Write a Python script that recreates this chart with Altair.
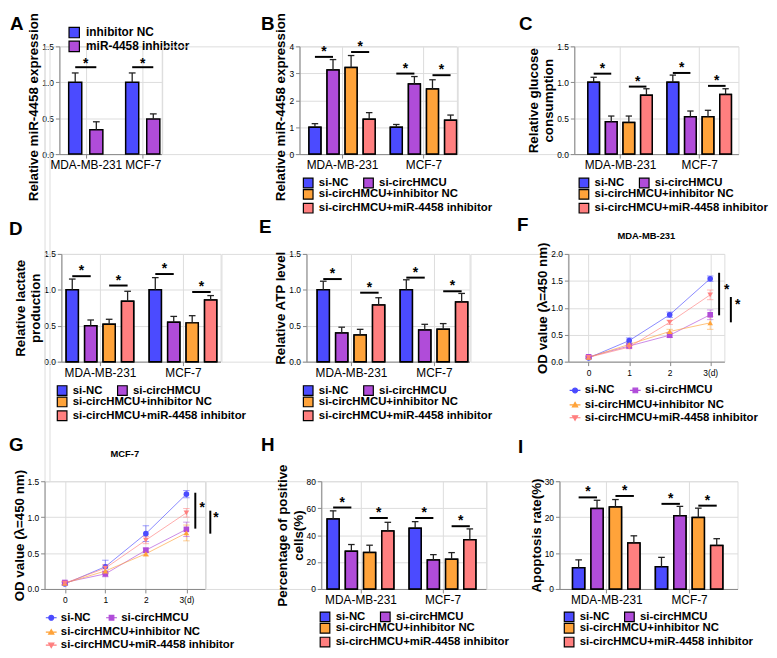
import altair as alt
import pandas as pd

FONT = "Liberation Sans"

groups = ["MDA-MB-231", "MCF-7"]
series4 = ["si-NC", "si-circHMCU", "si-circHMCU+inhibitor NC", "si-circHMCU+miR-4458 inhibitor"]
colors4 = ["#4B4BFF", "#B04CD9", "#FFA33A", "#FF7F7F"]
series2 = ["inhibitor NC", "miR-4458 inhibitor"]
colors2 = ["#4B4BFF", "#B04CD9"]
shapes4 = ["circle", "square", "triangle-up", "triangle-down"]
# legend glyphs for the growth curves: marker with a line through it
LINE = "M-2,0H2"
legend_shapes4 = [
    "M-0.9,0A0.9,0.9,0,1,1,0.9,0A0.9,0.9,0,1,1,-0.9,0Z" + LINE,
    "M-0.85,-0.85H0.85V0.85H-0.85Z" + LINE,
    "M0,-0.95L0.95,0.7H-0.95Z" + LINE,
    "M0,0.95L0.95,-0.7H-0.95Z" + LINE,
]

# Panel A
A_mean = [1.00, 0.34, 1.00, 0.49]
A_err = [0.13, 0.11, 0.13, 0.07]
A_sig = [1.21, 1.21]
# Panel B
B_mean = [1.00, 3.12, 3.22, 1.29, 1.00, 2.60, 2.42, 1.26]
B_err = [0.13, 0.39, 0.44, 0.25, 0.10, 0.28, 0.34, 0.19]
B_sig = [3.61, 3.79, 2.99, 2.93]
# Panel C
C_mean = [1.00, 0.45, 0.44, 0.82, 1.00, 0.52, 0.52, 0.83]
C_err = [0.07, 0.08, 0.09, 0.09, 0.10, 0.08, 0.09, 0.08]
C_sig = [1.12, 0.94, 1.13, 0.95]
# Panel D
D_mean = [1.00, 0.50, 0.52, 0.84, 1.00, 0.55, 0.54, 0.86]
D_err = [0.15, 0.08, 0.07, 0.14, 0.17, 0.08, 0.10, 0.06]
D_sig = [1.19, 1.06, 1.22, 0.97]
# Panel E
E_mean = [1.00, 0.40, 0.37, 0.79, 1.00, 0.44, 0.45, 0.83]
E_err = [0.12, 0.08, 0.08, 0.10, 0.14, 0.08, 0.08, 0.12]
E_sig = [1.15, 0.96, 1.17, 0.98]
# Panel H
H_mean = [52, 28, 27, 43, 45, 21.5, 22, 36.6]
H_err = [6, 5, 5.5, 6.5, 5, 4, 5, 8]
H_sig = [60.5, 52.7, 52.7, 46.6]
# Panel I
I_mean = [5.9, 22.4, 22.8, 12.8, 6.2, 20.4, 19.9, 12.1]
I_err = [2.2, 2.3, 2.1, 2.0, 2.6, 2.6, 2.6, 1.9]
I_sig = [25.5, 25.9, 23.7, 23.2]

# Panels F and G (CCK-8 curves)
days = [0, 1, 2, 3]
F_vals = [[0.07, 0.39, 0.87, 1.54], [0.09, 0.29, 0.49, 0.87],
          [0.08, 0.32, 0.56, 0.72], [0.08, 0.27, 0.73, 1.24]]
F_errs = [[0.02, 0.05, 0.05, 0.05], [0.02, 0.03, 0.04, 0.09],
          [0.02, 0.03, 0.04, 0.12], [0.02, 0.03, 0.04, 0.09]]
F_brackets = [[3.22, 0.86, 1.65], [3.51, 0.73, 1.20]]
F_stars = [[3.41, 1.27], [3.68, 0.99]]
G_vals = [[0.07, 0.31, 0.77, 1.32], [0.09, 0.21, 0.54, 0.83],
          [0.08, 0.25, 0.49, 0.78], [0.08, 0.29, 0.68, 1.06]]
G_errs = [[0.02, 0.09, 0.11, 0.05], [0.02, 0.04, 0.03, 0.10],
          [0.02, 0.04, 0.03, 0.11], [0.02, 0.05, 0.05, 0.06]]
G_brackets = [[3.22, 0.84, 1.34], [3.59, 0.77, 1.09]]
G_stars = [[3.39, 1.09], [3.73, 0.94]]

BOLD = "bold"
PH = 109  # plot height
TFS = 13.5  # axis title font size
RES = dict(color="independent", shape="independent", fill="independent", stroke="independent")


def text_layer(txt, x, y, size, align="left"):
    return alt.Chart(pd.DataFrame({"t": [txt]})).mark_text(
        align=align, baseline="middle", fontSize=size, fontWeight=BOLD, font=FONT, color="black"
    ).encode(text="t:N", x=alt.value(x), y=alt.value(y))


def legend_pair(series, lx, ly, gap2, with_stroke=True):
    common = dict(title=None, orient="none", symbolOpacity=1,
                  labelFont=FONT, labelFontSize=11.5, labelFontWeight=BOLD, labelColor="black",
                  labelLimit=400, labelOffset=5, padding=0, columnPadding=12)
    if with_stroke:
        common.update(symbolType="square", symbolSize=95, symbolStrokeColor="black",
                      symbolStrokeWidth=1.2, rowPadding=-3)
    else:
        common.update(symbolSize=30, symbolStrokeWidth=1.2, rowPadding=0, labelOffset=4)
    l1 = alt.Legend(legendX=lx, legendY=ly, direction="horizontal", values=series[:2], **common)
    l2 = alt.Legend(legendX=lx, legendY=ly + gap2, direction="vertical", values=series[2:], **common)
    return l1, l2


def y_axis(yvals, fmt, title, title_y=None):
    kw = dict(values=yvals, format=fmt, title=title, labelFontSize=8.5, tickSize=4,
              titlePadding=1, labelPadding=2, titleFontSize=TFS, titleFont=FONT,
              titleFontWeight=BOLD, titleColor="black")
    if title_y is not None:
        kw["titleY"] = title_y
    return alt.Axis(**kw)


def bar_panel(letter, lxy, means, errs, sigs, series, colors, ytitle, ymax, yvals, yfmt,
              unit, off, rpad, gap, leg_xy, title_y=None, star_dy=-5):
    n = len(series)
    pos = [g * (n - 1 + gap) + i for g in range(2) for i in range(n)]
    bw = 0.33 if n == 4 else 0.31
    cw = 0.18 if n == 4 else 0.16
    df = pd.DataFrame({"series": series * 2, "pos": pos, "mean": means, "err": errs})
    df["x1"] = df["pos"] - bw
    df["x2"] = df["pos"] + bw
    df["c1"] = df["pos"] - cw
    df["c2"] = df["pos"] + cw
    df["top"] = df["mean"] + df["err"]
    df["zero"] = 0.0

    pairs = [(0, 1), (2, 3)] if n == 4 else [(0, 1)]
    srows = []
    k = 0
    for g in range(2):
        for a, b in pairs:
            pa = pos[g * n + a]
            pb = pos[g * n + b]
            srows.append({"s1": pa, "s2": pb, "sm": (pa + pb) / 2, "sy": sigs[k]})
            k += 1
    sdf = pd.DataFrame(srows)

    xmin = -off
    xmax = pos[-1] + rpad
    width = unit * (xmax - xmin)
    c0 = (pos[0] + pos[n - 1]) / 2
    c1 = (pos[n] + pos[-1]) / 2
    mid = (c0 + c1) / 2
    xs = alt.Scale(domain=[xmin, xmax], nice=False, zero=False)
    xa = alt.Axis(values=[c0, c1], labelExpr=f"datum.value < {mid} ? '{groups[0]}' : '{groups[1]}'",
                  title=None, labelFontSize=12, tickSize=4, labelPadding=2)
    ys = alt.Scale(domain=[0, ymax], nice=False)
    ya = y_axis(yvals, yfmt, ytitle, title_y)
    cs = alt.Scale(domain=series, range=colors)

    base = alt.Chart(df)
    if n == 4:
        l1, l2 = legend_pair(series, leg_xy[0], leg_xy[1], 12)
    else:
        l1 = alt.Legend(title=None, orient="none", legendX=leg_xy[0], legendY=leg_xy[1],
                        direction="vertical", symbolType="square", symbolSize=110,
                        symbolStrokeColor="black", symbolStrokeWidth=1.2, symbolOpacity=1,
                        labelFont=FONT, labelFontSize=12, labelFontWeight=BOLD, labelColor="black",
                        labelLimit=400, labelOffset=6, padding=0, rowPadding=-5)
        l2 = None

    def bars(leg):
        return base.mark_bar(stroke="black", strokeWidth=1.5).encode(
            x=alt.X("x1:Q", scale=xs, axis=xa),
            x2="x2:Q",
            y=alt.Y("mean:Q", scale=ys, axis=ya),
            y2="zero:Q",
            color=alt.Color("series:N", scale=cs, legend=leg),
        )

    layers = [bars(l1)]
    if l2 is not None:
        layers.append(bars(l2))
    err = base.mark_rule(color="#222", strokeWidth=1.3).encode(
        x=alt.X("pos:Q", scale=xs, axis=xa), y=alt.Y("mean:Q", scale=ys, axis=ya), y2="top:Q")
    cap = base.mark_rule(color="#222", strokeWidth=1.3).encode(
        x=alt.X("c1:Q", scale=xs, axis=xa), x2="c2:Q", y=alt.Y("top:Q", scale=ys, axis=ya))
    sig = alt.Chart(sdf).mark_rule(color="black", strokeWidth=2).encode(
        x=alt.X("s1:Q", scale=xs, axis=xa), x2="s2:Q", y=alt.Y("sy:Q", scale=ys, axis=ya))
    star = alt.Chart(sdf).mark_text(text="*", fontSize=14, fontWeight=BOLD, font=FONT,
                                    baseline="middle", dy=star_dy, color="black").encode(
        x=alt.X("sm:Q", scale=xs, axis=xa), y=alt.Y("sy:Q", scale=ys, axis=ya))
    layers += [err, cap, sig, star, text_layer(letter, lxy[0], lxy[1], 19)]
    return alt.layer(*layers).resolve_scale(color="independent").properties(
        width=width, height=PH)


def line_panel(letter, lxy, vals, errs, brackets, stars, title, title_y, ytitle, ymax, yvals,
               xmax, leg_xy):
    rows = []
    for s, name in enumerate(series4):
        for d, day in enumerate(days):
            rows.append({"series": name, "day": day, "val": vals[s][d], "err": errs[s][d]})
    df = pd.DataFrame(rows)
    df["lo"] = df["val"] - df["err"]
    df["hi"] = df["val"] + df["err"]
    df["c1"] = df["day"] - 0.08
    df["c2"] = df["day"] + 0.08
    bdf = pd.DataFrame(brackets, columns=["bx", "b1", "b2"])
    sdf = pd.DataFrame(stars, columns=["sx", "sy"])
    unit = 41
    xmin = -0.5
    width = unit * (xmax - xmin)
    xs = alt.Scale(domain=[xmin, xmax], nice=False, zero=False)
    xa = alt.Axis(values=days, labelExpr="datum.value == 3 ? '3(d)' : datum.label", title=None,
                  labelFontSize=8.5, tickSize=4, labelPadding=3)
    ys = alt.Scale(domain=[0, ymax], nice=False)
    ya = y_axis(yvals, ".1f", ytitle)
    cs = alt.Scale(domain=series4, range=colors4)
    ss = alt.Scale(domain=series4, range=shapes4)
    lss = alt.Scale(domain=series4, range=legend_shapes4)
    base = alt.Chart(df)
    l1, l2 = legend_pair(series4, leg_xy[0], leg_xy[1], 15, with_stroke=False)

    def colored(mark, enc):
        return mark.encode(color=alt.Color("series:N", scale=cs, legend=None), **enc)

    line = colored(base.mark_line(strokeWidth=1, opacity=0.65), dict(
        x=alt.X("day:Q", scale=xs, axis=xa), y=alt.Y("val:Q", scale=ys, axis=ya)))
    ebar = colored(base.mark_rule(strokeWidth=1, opacity=0.55), dict(
        x=alt.X("day:Q", scale=xs, axis=xa), y=alt.Y("lo:Q", scale=ys, axis=ya), y2="hi:Q"))
    ecap1 = colored(base.mark_rule(strokeWidth=1, opacity=0.55), dict(
        x=alt.X("c1:Q", scale=xs, axis=xa), x2="c2:Q", y=alt.Y("hi:Q", scale=ys, axis=ya)))
    ecap2 = colored(base.mark_rule(strokeWidth=1, opacity=0.55), dict(
        x=alt.X("c1:Q", scale=xs, axis=xa), x2="c2:Q", y=alt.Y("lo:Q", scale=ys, axis=ya)))
    pts = base.mark_point(filled=True, size=32, opacity=1).encode(
        x=alt.X("day:Q", scale=xs, axis=xa), y=alt.Y("val:Q", scale=ys, axis=ya),
        color=alt.Color("series:N", scale=cs, legend=None),
        shape=alt.Shape("series:N", scale=ss, legend=None))

    def leg_layer(leg):
        # invisible duplicate of the markers that only carries a legend
        return base.mark_point(filled=True, size=30, opacity=0, strokeWidth=1.2).encode(
            x=alt.X("day:Q", scale=xs, axis=xa), y=alt.Y("val:Q", scale=ys, axis=ya),
            fill=alt.Fill("series:N", scale=cs, legend=leg),
            stroke=alt.Stroke("series:N", scale=cs, legend=leg),
            shape=alt.Shape("series:N", scale=lss, legend=leg))

    br = alt.Chart(bdf).mark_rule(color="black", strokeWidth=2).encode(
        x=alt.X("bx:Q", scale=xs, axis=xa), y=alt.Y("b1:Q", scale=ys, axis=ya), y2="b2:Q")
    st = alt.Chart(sdf).mark_text(text="*", fontSize=14, fontWeight=BOLD, font=FONT,
                                  baseline="middle", dy=-3, color="black").encode(
        x=alt.X("sx:Q", scale=xs, axis=xa), y=alt.Y("sy:Q", scale=ys, axis=ya))
    ch = alt.layer(line, ebar, ecap1, ecap2, pts, leg_layer(l1), leg_layer(l2), br, st,
                   text_layer(letter, lxy[0], lxy[1], 19),
                   text_layer(title, width / 2, title_y, 9.5, align="center"))
    return ch.resolve_scale(**RES).properties(width=width, height=PH)


def spacer(w, h):
    return alt.Chart(pd.DataFrame({"v": [0]})).mark_point(opacity=0).encode(
        x=alt.X("v:Q", axis=None), y=alt.Y("v:Q", axis=None)).properties(width=w, height=h)


pA = bar_panel("A", (-50, -23), A_mean, A_err, A_sig, series2, colors2,
               "Relative miR-4458 expression", 1.5, [0, 0.5, 1.0, 1.5], ".1f",
               21.35, 0.75, 0.4, 1.7, (9, -20), title_y=61, star_dy=-3)
pB = bar_panel("B", (-39, -23), B_mean, B_err, B_sig, series4, colors4,
               "Relative miR-4458 expression", 4, [0, 1, 2, 3, 4], "d",
               18.3, 0.85, 0.35, 1.5, (3, 132), title_y=61)
pC = bar_panel("C", (-56, -23), C_mean, C_err, C_sig, series4, colors4,
               ["Relative glucose", "consumption"], 1.5, [0, 0.5, 1.0, 1.5], ".1f",
               17.8, 1.1, 0.73, 1.5, (4, 132))
pD = bar_panel("D", (-53, -25), D_mean, D_err, D_sig, series4, colors4,
               ["Relative lactate", "production"], 1.5, [0, 0.5, 1.0, 1.5], ".1f",
               18.67, 0.59, 0.54, 1.5, (-5, 132))
pE = bar_panel("E", (-48, -27), E_mean, E_err, E_sig, series4, colors4,
               "Relative ATP level", 1.5, [0, 0.5, 1.0, 1.5], ".1f",
               18.67, 0.91, 0.43, 1.5, (-4, 132))
pF = line_panel("F", (-52, -29), F_vals, F_errs, F_brackets, F_stars, "MDA-MB-231", -18,
                "OD value (λ=450 nm)", 2.0, [0, 0.5, 1.0, 1.5, 2.0], 3.35, (1, 132))
pG = line_panel("G", (-36, -37), G_vals, G_errs, G_brackets, G_stars, "MCF-7", -28,
                "OD value (λ=450 nm)", 1.5, [0, 0.5, 1.0, 1.5], 3.46, (1, 132))
pH = bar_panel("H", (-61, -37), H_mean, H_err, H_sig, series4, colors4,
               ["Percentage of positive", "cells(%)"], 80, [0, 20, 40, 60, 80], "d",
               18.44, 0.65, 0.9, 1.5, (-2, 131))
pI = bar_panel("I", (-42, -35), I_mean, I_err, I_sig, series4, colors4,
               "Apoptosis rate(%)", 30, [0, 10, 20, 30], "d",
               18.63, 1.04, 1.13, 1.5, (4, 131))


def row(*cells):
    return alt.hconcat(*cells, spacing=0, bounds="flush").resolve_scale(**RES)


row1 = row(spacer(15, PH), pA, spacer(138.5, PH), pB, spacer(118, PH), pC)
row2 = row(spacer(17, PH), pD, spacer(86, PH), pE, spacer(98.5, PH), pF)
row3 = row(pG, spacer(116.6, PH), pH, spacer(74, PH), pI)

# nested rows count as zero height in flush layout, so the spacers carry row height + gap
chart = alt.vconcat(row1, spacer(5, PH + 101), row2, spacer(5, PH + 121), row3, spacing=0,
                    bounds="flush").resolve_scale(**RES).properties(padding=0).configure_view(
    stroke=None).configure_axis(
    domainColor="black", domainWidth=1.5, tickColor="black", tickWidth=1.5, grid=False,
    labelFont=FONT, labelFontWeight=BOLD, labelColor="black",
    titleFont=FONT, titleFontWeight=BOLD, titleFontSize=TFS, titleColor="black"
).configure(background="white")

chart.save("out.html", embed_options={"renderer": "svg", "actions": False})
